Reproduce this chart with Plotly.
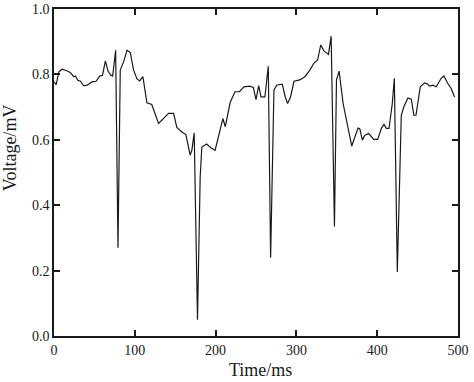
import plotly.graph_objects as go

time_ms = [0, 2.7, 6, 10, 16, 20, 24.5, 26.6, 29.4, 32.7,
           36.8, 41, 47, 52, 56.6, 60, 63.6, 66.9, 70, 72.6,
           76.3, 79.2, 82, 86.2, 90.4, 94.4, 98.5, 102.7, 106, 110,
           115, 121, 129.4, 135.6, 141.8, 148, 152, 158.3, 163.2, 168.5,
           170.6, 173.5, 177.6, 180.9, 183, 189, 194, 199.4, 209, 212,
           218, 224, 229.5, 235, 242.6, 246.7, 250, 253.3, 256.2, 261,
           265.2, 268.1, 272.2, 275.5, 282.5, 286.2, 289.1, 292.8, 297, 304.3,
           310.5, 316.7, 321.6, 326.2, 330.2, 334, 339.7, 343, 347.1, 349.6,
           352.9, 357.8, 363.2, 368.5, 376.3, 378.4, 381.7, 384.6, 389.5, 395.7,
           400.6, 405.2, 408.4, 411.3, 414.6, 418.7, 421.2, 424.9, 429.8, 433,
           438, 442.2, 445.4, 448, 453.3, 458.6, 461.9, 464.8, 468.9, 473,
           479.2, 482.5, 487.4, 491.6, 495.7]

voltage_mv = [0.777, 0.769, 0.808, 0.816, 0.811, 0.806, 0.793, 0.795, 0.782, 0.779,
              0.765, 0.767, 0.777, 0.779, 0.795, 0.797, 0.841, 0.810, 0.798, 0.795,
              0.874, 0.270, 0.813, 0.839, 0.874, 0.867, 0.813, 0.786, 0.780, 0.793,
              0.713, 0.708, 0.650, 0.665, 0.681, 0.681, 0.638, 0.624, 0.616, 0.553,
              0.568, 0.621, 0.050, 0.486, 0.578, 0.587, 0.576, 0.568, 0.665, 0.640,
              0.714, 0.747, 0.747, 0.762, 0.764, 0.760, 0.723, 0.766, 0.731, 0.731,
              0.825, 0.240, 0.752, 0.767, 0.770, 0.731, 0.711, 0.731, 0.779, 0.783,
              0.793, 0.813, 0.834, 0.844, 0.890, 0.872, 0.861, 0.917, 0.335, 0.783,
              0.810, 0.711, 0.640, 0.581, 0.636, 0.634, 0.599, 0.614, 0.619, 0.601,
              0.601, 0.635, 0.647, 0.635, 0.635, 0.711, 0.788, 0.196, 0.675, 0.701,
              0.728, 0.724, 0.675, 0.675, 0.762, 0.774, 0.771, 0.764, 0.767, 0.762,
              0.788, 0.795, 0.772, 0.757, 0.731]

x_ticks = [0, 100, 200, 300, 400, 500]
y_ticks = [0.0, 0.2, 0.4, 0.6, 0.8, 1.0]
x_title = "Time/ms"
y_title = "Voltage/mV"

FONT = "Liberation Serif"

fig = go.Figure()
fig.add_trace(go.Scatter(x=time_ms, y=voltage_mv, mode="lines",
                         line=dict(color="#1a1a1a", width=1.2), showlegend=False))

axis_common = dict(showline=True, linecolor="#1a1a1a", linewidth=1.5, mirror="ticks",
                   ticks="inside", ticklen=6, tickwidth=1.5, tickcolor="#1a1a1a",
                   showgrid=False, zeroline=False, automargin=False,
                   tickfont=dict(family=FONT, size=14, color="#1a1a1a"))

fig.update_xaxes(range=[0, 500], tickvals=x_ticks, **axis_common)
fig.update_yaxes(range=[0, 1], tickvals=y_ticks, tickformat=".1f", **axis_common)

fig.add_annotation(text=y_title, xref="paper", yref="paper", x=-0.109, y=0.577,
                   xanchor="center", yanchor="middle", textangle=-90, showarrow=False,
                   font=dict(family=FONT, size=18, color="#1a1a1a"))
fig.add_annotation(text=x_title, xref="paper", yref="paper", x=0.51, y=-0.105,
                   xanchor="center", yanchor="middle", showarrow=False,
                   font=dict(family=FONT, size=18, color="#1a1a1a"))

fig.update_layout(width=474, height=382, margin=dict(l=54, r=16, t=9, b=46),
                  plot_bgcolor="white", paper_bgcolor="white",
                  font=dict(family=FONT, color="#1a1a1a"))

fig.write_html("out.html", config={"displayModeBar": False},
               post_script="document.body.style.margin='0';document.body.style.overflow='hidden';")
